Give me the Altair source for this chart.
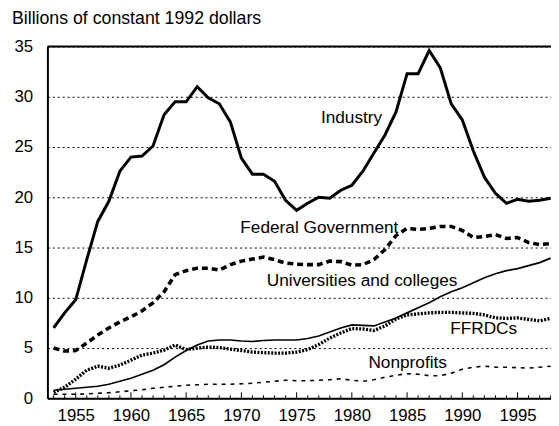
import altair as alt
import pandas as pd

years = list(range(1953, 1999))

industry = [7.0, 8.5, 9.8, 13.8, 17.6, 19.6, 22.6, 24.0, 24.1, 25.1, 28.2, 29.5, 29.5, 31.0, 29.9, 29.3,
            27.5, 23.9, 22.3, 22.3, 21.6, 19.7, 18.7, 19.4, 20.0, 19.9, 20.7, 21.2, 22.6, 24.4, 26.2, 28.5,
            32.3, 32.3, 34.6, 32.9, 29.3, 27.7, 24.6, 22.0, 20.4, 19.4, 19.8, 19.6, 19.7, 19.9]
federal = [5.0, 4.7, 4.75, 5.5, 6.3, 7.0, 7.6, 8.1, 8.7, 9.5, 10.6, 12.3, 12.7, 12.95, 12.95, 12.75,
           13.3, 13.65, 13.85, 14.05, 13.8, 13.45, 13.35, 13.3, 13.3, 13.65, 13.6, 13.25, 13.3, 13.8, 14.8, 16.2,
           16.9, 16.8, 16.9, 17.1, 17.1, 16.7, 16.0, 16.1, 16.3, 15.9, 16.0, 15.5, 15.3, 15.4]
universities = [0.8, 0.9, 1.0, 1.1, 1.2, 1.4, 1.7, 2.0, 2.4, 2.8, 3.35, 4.1, 4.75, 5.3, 5.7, 5.8,
                5.8, 5.7, 5.65, 5.75, 5.8, 5.8, 5.8, 5.95, 6.2, 6.6, 7.0, 7.3, 7.25, 7.2, 7.6, 8.0,
                8.5, 9.0, 9.5, 10.1, 10.6, 11.0, 11.5, 12.0, 12.4, 12.7, 12.9, 13.2, 13.5, 13.95]
ffrdcs = [0.6, 1.1, 1.9, 2.8, 3.2, 3.0, 3.3, 3.8, 4.3, 4.5, 4.8, 5.3, 4.85, 5.0, 5.1, 5.05,
          4.9, 4.75, 4.6, 4.55, 4.5, 4.5, 4.6, 4.85, 5.35, 6.0, 6.5, 6.95, 6.9, 6.75, 7.2, 7.9,
          8.3, 8.4, 8.5, 8.55, 8.55, 8.5, 8.45, 8.3, 8.0, 7.95, 8.0, 7.85, 7.7, 7.95]
nonprofits = [0.4, 0.4, 0.4, 0.45, 0.5, 0.55, 0.65, 0.75, 0.85, 1.0, 1.1, 1.2, 1.3, 1.35, 1.4, 1.4,
              1.4, 1.45, 1.5, 1.6, 1.7, 1.8, 1.75, 1.75, 1.8, 1.85, 1.95, 1.8, 1.7, 1.85, 2.1, 2.3,
              2.45, 2.4, 2.25, 2.25, 2.5, 2.9, 3.1, 3.2, 3.1, 3.1, 3.05, 3.0, 3.1, 3.2]

label_text = ["Industry", "Federal Government", "Universities and colleges", "FFRDCs", "Nonprofits"]
label_year = [1977.2, 1969.9, 1972.3, 1988.9, 1981.5]
label_value = [27.9, 16.9, 11.7, 6.85, 3.5]

y_ticks = [0, 5, 10, 15, 20, 25, 30, 35]
x_labels = [1955, 1960, 1965, 1970, 1975, 1980, 1985, 1990, 1995]

FONT = "Liberation Sans"

xs = alt.Scale(domain=[1952.44, 1998.03], nice=False, zero=False)
ys = alt.Scale(domain=[0, 35], nice=False)

def series_df(vals):
    return pd.DataFrame({"year": years, "value": vals})

x_enc = alt.X("year:Q", scale=xs, axis=alt.Axis(
    values=x_labels, format="d", title=None, grid=False, ticks=False,
    domainColor="black", domainWidth=2, labelFontSize=17, labelFont=FONT,
    labelColor="black", labelPadding=9))
y_enc = alt.Y("value:Q", scale=ys, axis=alt.Axis(
    values=y_ticks, title=None, grid=True, gridDash=[2, 3], gridColor="black",
    gridWidth=1, gridOpacity=1, ticks=False, domainColor="black", domainWidth=2,
    labelFontSize=17, labelFont=FONT, labelColor="black", labelPadding=15))

def line(vals, **kw):
    return alt.Chart(series_df(vals)).mark_line(color="black", **kw).encode(
        x=alt.X("year:Q", scale=xs), y=alt.Y("value:Q", scale=ys))

base = alt.Chart(series_df(industry)).mark_line(color="black", strokeWidth=3).encode(x=x_enc, y=y_enc)

lines = [
    line(nonprofits, strokeWidth=1.6, strokeDash=[4, 5]),
    line(ffrdcs, strokeWidth=3.4, strokeDash=[2, 1.5]),
    line(universities, strokeWidth=1.7),
    line(federal, strokeWidth=3.6, strokeDash=[6, 4]),
]

tick_df = pd.DataFrame({"year": years,
                        "bottom": [0.0 for _ in years],
                        "top": [0.6 if y % 5 == 0 else 0.3 for y in years]})
ticks = alt.Chart(tick_df).mark_rule(color="black", strokeWidth=1).encode(
    x=alt.X("year:Q", scale=xs), y=alt.Y("bottom:Q", scale=ys), y2="top:Q")

top_rule = alt.Chart(pd.DataFrame({"v": [35]})).mark_rule(color="black", strokeWidth=2).encode(
    y=alt.Y("v:Q", scale=ys))

lab_df = pd.DataFrame({"label": label_text, "year": label_year, "value": label_value})
labels = alt.Chart(lab_df).mark_text(align="left", baseline="middle", font=FONT,
                                     fontSize=17.5, color="black").encode(
    x=alt.X("year:Q", scale=xs), y=alt.Y("value:Q", scale=ys), text="label:N")

chart = alt.layer(base, *lines, ticks, top_rule, labels).properties(
    width=511, height=357,
    autosize=alt.AutoSizeParams(type="none"),
    padding={"left": 40, "top": 36, "right": 0, "bottom": 25},
    title=alt.TitleParams("Billions of constant 1992 dollars", anchor="start", dx=-36,
                          font=FONT, fontSize=18, fontWeight="normal", color="black",
                          offset=10, frame="group"),
).configure_view(stroke=None).configure(background="white")

chart.save("out.html", embed_options={"renderer": "svg", "actions": False})
